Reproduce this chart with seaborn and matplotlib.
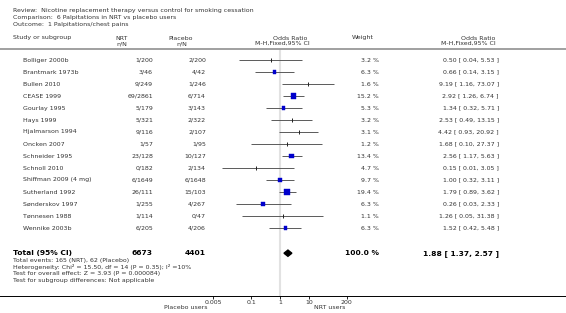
import numpy as np
import pandas as pd
import seaborn as sns
import matplotlib.pyplot as plt
import matplotlib.transforms as mtransforms

# ---- data ----
studies = ["Bolliger 2000b", "Brantmark 1973b", "Bullen 2010", "CEASE 1999",
           "Gourlay 1995", "Hays 1999", "Hjalmarson 1994", "Oncken 2007",
           "Schneider 1995", "Schnoll 2010", "Shiffman 2009 (4 mg)",
           "Sutherland 1992", "Sønderskov 1997", "Tønnesen 1988", "Wennike 2003b"]
nrt = ["1/200", "3/46", "9/249", "69/2861", "5/179", "5/321", "9/116", "1/57",
       "23/128", "0/182", "6/1649", "26/111", "1/255", "1/114", "6/205"]
placebo = ["2/200", "4/42", "1/246", "6/714", "3/143", "2/322", "2/107", "1/95",
           "10/127", "2/134", "6/1648", "15/103", "4/267", "0/47", "4/206"]
weights = [3.2, 6.3, 1.6, 15.2, 5.3, 3.2, 3.1, 1.2, 13.4, 4.7, 9.7, 19.4, 6.3, 1.1, 6.3]
odds = [0.50, 0.66, 9.19, 2.92, 1.34, 2.53, 4.42, 1.68, 2.56, 0.15, 1.00, 1.79, 0.26, 1.26, 1.52]
ci_lo = [0.04, 0.14, 1.16, 1.26, 0.32, 0.49, 0.93, 0.10, 1.17, 0.01, 0.32, 0.89, 0.03, 0.05, 0.42]
ci_hi = [5.53, 3.15, 73.07, 6.74, 5.71, 13.15, 20.92, 27.37, 5.63, 3.05, 3.11, 3.62, 2.33, 31.38, 5.48]

total_nrt, total_placebo = 6673, 4401
total_or, total_lo, total_hi = 1.88, 1.37, 2.57

title_lines = ["Review:  Nicotine replacement therapy versus control for smoking cessation",
               "Comparison:  6 Palpitations in NRT vs placebo users",
               "Outcome:  1 Palpitations/chest pains"]
summary_lines = ["Total events: 165 (NRT), 62 (Placebo)",
                 "Heterogeneity: Chi² = 15.50, df = 14 (P = 0.35); I² =10%",
                 "Test for overall effect: Z = 3.93 (P = 0.000084)",
                 "Test for subgroup differences: Not applicable"]
xtick_vals = [0.005, 0.1, 1, 10, 200]
xtick_labels = ["0.005", "0.1", "1", "10", "200"]

df = pd.DataFrame({"study": studies, "w": weights, "or": odds,
                   "lo": ci_lo, "hi": ci_hi})
df["row"] = np.arange(len(df))
total_row = len(df) + 1.1

# ---- layout ----
W, H = 566, 313
sns.set_style("white")
plt.rcParams["font.family"] = ["DejaVu Sans"]
fs = 4.5
fs_bold = 5.4
txt_col = "#333333"

fig = plt.figure(figsize=(W / 100, H / 100), dpi=100)
top_px, bot_px = 49, 296
ax = fig.add_axes([0, 1 - bot_px / H, 1, (bot_px - top_px) / H])

dec = 28.99  # pixels per decade, x=1 sits at 280 px
ax.set_xscale("log")
ax.set_xlim(10 ** (-280 / dec), 10 ** ((W - 280) / dec))
ax.set_ylim((bot_px - 60) / 12, (top_px - 60) / 12)

ax.axvline(1, color="#e2e2e2", lw=1.5, zorder=0)

# confidence intervals
ax.hlines(df["row"], df["lo"], df["hi"], color="#5a5a5a", lw=0.7, zorder=2)

# weighted boxes (area ~ weight); tiny weights drawn as ticks
big = df[df["w"] >= 5]
small = df[df["w"] < 5]
sns.scatterplot(data=big, x="or", y="row", size="w", sizes=(0, 19),
                size_norm=(0, 20), marker="s", color="#0000cc",
                edgecolor="#0000cc", linewidth=0.3, legend=False, ax=ax, zorder=3)
sns.scatterplot(data=small, x="or", y="row", marker="|", color="#222222",
                s=5, linewidth=0.7, legend=False, ax=ax, zorder=3)

# pooled diamond
h = 0.26
ax.fill([total_lo, total_or, total_hi, total_or],
        [total_row, total_row - h, total_row, total_row + h],
        color="black", zorder=3)

for s in ["left", "right"]:
    ax.spines[s].set_visible(False)
ax.spines["top"].set_color("#999999")
ax.spines["top"].set_linewidth(1.3)
ax.spines["bottom"].set_color("black")
ax.spines["bottom"].set_linewidth(0.7)

ax.set_xticks(xtick_vals)
ax.set_xticklabels(xtick_labels)
ax.minorticks_off()
ax.tick_params(axis="x", bottom=True, length=2, width=0.6, labelsize=fs,
               pad=1, colors="black", labelcolor=txt_col)
ax.set_yticks([])
ax.set_xlabel("")
ax.set_ylabel("")

# ---- table text ----
tr = mtransforms.blended_transform_factory(fig.transFigure, ax.transData)

def col(px, y, s, ha, size=fs, **kw):
    ax.text(px / W, y, s, transform=tr, ha=ha, va="center", fontsize=size,
            clip_on=False, **kw)

for _, r in df.iterrows():
    i = r["row"]
    col(23, i, r["study"], "left", color=txt_col)
    col(153, i, nrt[i], "right", color=txt_col)
    col(206, i, placebo[i], "right", color=txt_col)
    col(379, i, f"{r['w']:.1f} %", "right", color=txt_col)
    col(499, i, f"{r['or']:.2f} [ {r['lo']:.2f}, {r['hi']:.2f} ]", "right",
        color=txt_col)

bold = dict(size=fs_bold, fontweight="bold", color="black")
col(13, total_row, "Total (95% CI)", "left", **bold)
col(153, total_row, str(total_nrt), "right", **bold)
col(206, total_row, str(total_placebo), "right", **bold)
col(379, total_row, "100.0 %", "right", **bold)
col(499, total_row, f"{total_or:.2f} [ {total_lo:.2f}, {total_hi:.2f} ]",
    "right", **bold)

def ftxt(px, py, s, ha="left"):
    fig.text(px / W, 1 - py / H, s, ha=ha, va="center", fontsize=fs, color=txt_col)

for k, line in enumerate(summary_lines):
    ftxt(13, 260.2 + k * 6.8, line)

for k, line in enumerate(title_lines):
    ftxt(13, 10.7 + k * 6.8, line)

ftxt(13, 38, "Study or subgroup")
ftxt(122, 38, "NRT", "center")
ftxt(122, 43.5, "n/N", "center")
ftxt(181, 38, "Placebo", "center")
ftxt(182, 43.5, "n/N", "center")
ftxt(290, 38, "Odds Ratio", "center")
ftxt(282, 43.5, "M-H,Fixed,95% CI", "center")
ftxt(352, 38, "Weight")
ftxt(478, 38, "Odds Ratio", "center")
ftxt(468, 43.5, "M-H,Fixed,95% CI", "center")

ftxt(186, 307.5, "Placebo users", "center")
ftxt(330, 307.5, "NRT users", "center")

fig.savefig("out.png", dpi=100)
